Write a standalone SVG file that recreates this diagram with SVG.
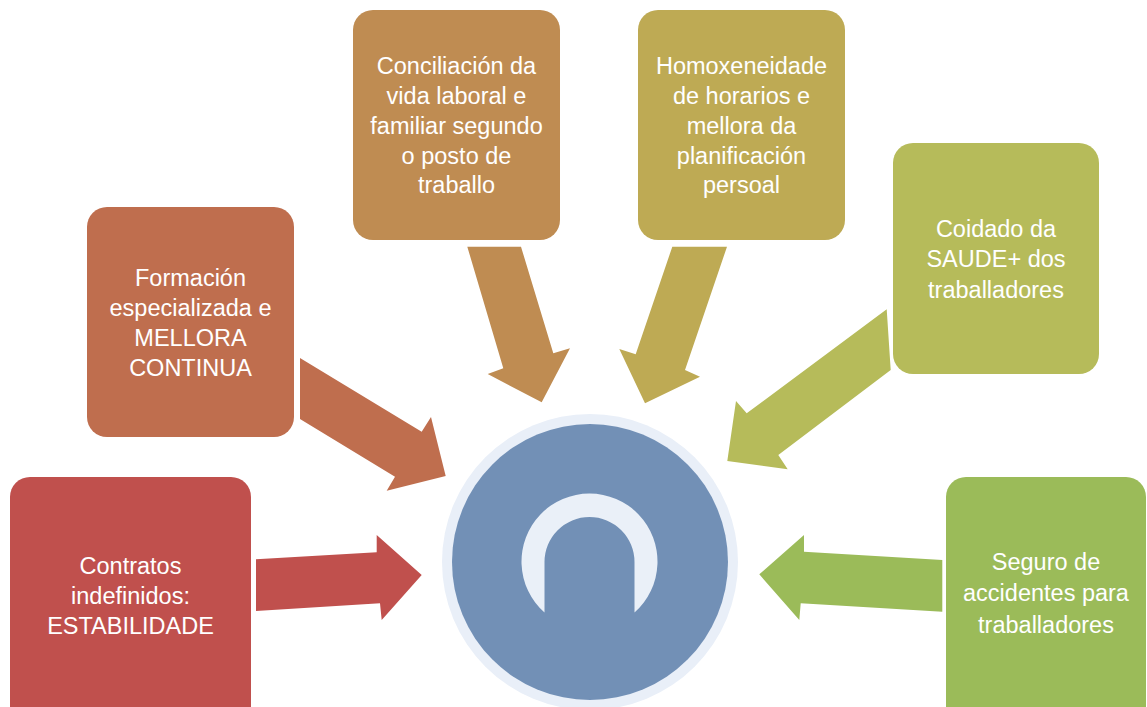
<svg xmlns="http://www.w3.org/2000/svg" width="1147" height="707" viewBox="0 0 1147 707">
<style>
text{font-family:"Liberation Sans",Arial,sans-serif;font-size:23.5px;fill:#FFFFFF;text-anchor:middle}
</style>
<rect width="1147" height="707" fill="#FFFFFF"/>
<g id="connectors">
<polygon fill="#C0504D" points="256,559.3 376.7,552.3 376.7,535 421.7,575 381.7,620 380,603.3 256,611"/>
<polygon fill="#BF6E4E" points="300,358 421.7,431.7 431,417 445.7,476 386.7,490.7 395,476.7 300,419"/>
<polygon fill="#BF8C52" points="467.3,246.7 521,246.7 553.3,353.3 570,348.3 541.7,402.3 487.7,374 503.3,368.3"/>
<polygon fill="#BEAA54" points="672.3,246.7 727,246.7 685,370 700,376.7 645,403.3 619.3,349 635.7,354.3"/>
<polygon fill="#B6BB5A" points="886.7,309.3 890.7,370 778.3,455 787.7,469.3 727.3,461 736,401 746.7,413.3"/>
<polygon fill="#9BBB59" points="942.3,560 942.3,611.7 800.7,603.3 799.3,620 759.3,574.3 804,535 804,551.7"/>
</g>
<g id="center">
<circle cx="590" cy="562" r="148" fill="#E9EFF8"/>
<circle cx="590" cy="562" r="138" fill="#7290B6"/>
<path d="M544.5,612.5 A68,68 0 1 1 634.5,612.5 L634.5,562 A45,45 0 0 0 544.5,562 Z" fill="#EAF0F8"/>
</g>
<g id="node-contratos">
<rect x="10" y="477" width="241" height="250" rx="20" fill="#C0504D"/>
<text x="130.5" y="574">Contratos</text>
<text x="130.5" y="604">indefinidos:</text>
<text x="130.5" y="634">ESTABILIDADE</text>
</g>
<g id="node-formacion">
<rect x="87" y="207" width="207" height="230" rx="20" fill="#BF6E4E"/>
<text x="190.5" y="286">Formación</text>
<text x="190.5" y="316">especializada e</text>
<text x="190.5" y="346">MELLORA</text>
<text x="190.5" y="376">CONTINUA</text>
</g>
<g id="node-conciliacion">
<rect x="353" y="10" width="207" height="230" rx="20" fill="#BF8C52"/>
<text x="456.5" y="74">Conciliación da</text>
<text x="456.5" y="104">vida laboral e</text>
<text x="456.5" y="134">familiar segundo</text>
<text x="456.5" y="164">o posto de</text>
<text x="456.5" y="193">traballo</text>
</g>
<g id="node-homoxeneidade">
<rect x="638" y="10" width="207" height="230" rx="20" fill="#BEAA54"/>
<text x="741.5" y="74">Homoxeneidade</text>
<text x="741.5" y="104">de horarios e</text>
<text x="741.5" y="134">mellora da</text>
<text x="741.5" y="164">planificación</text>
<text x="741.5" y="193">persoal</text>
</g>
<g id="node-coidado">
<rect x="893" y="143" width="206" height="231" rx="20" fill="#B6BB5A"/>
<text x="996" y="237">Coidado da</text>
<text x="996" y="267">SAUDE+ dos</text>
<text x="996" y="298">traballadores</text>
</g>
<g id="node-seguro">
<rect x="946" y="477" width="200" height="250" rx="20" fill="#9BBB59"/>
<text x="1046" y="570">Seguro de</text>
<text x="1046" y="601">accidentes para</text>
<text x="1046" y="633">traballadores</text>
</g>
</svg>
